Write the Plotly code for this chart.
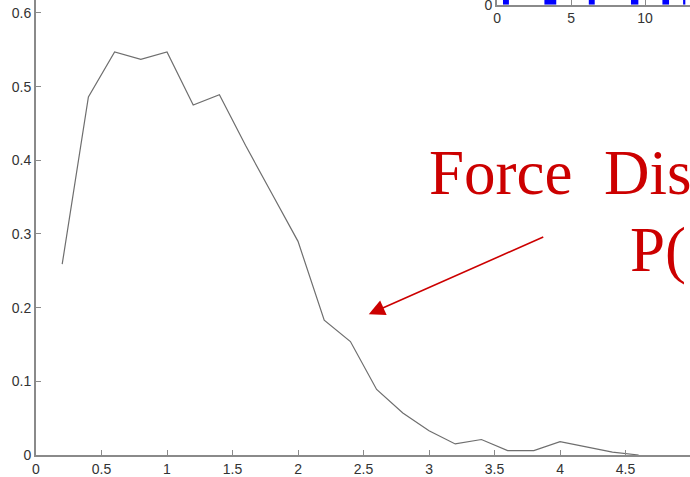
import plotly.graph_objects as go

# Main curve: force distribution P(f)
force = [0.2, 0.4, 0.6, 0.8, 1.0, 1.2, 1.4, 1.6, 1.8, 2.0, 2.2, 2.4, 2.6, 2.8,
         3.0, 3.2, 3.4, 3.6, 3.8, 4.0, 4.2, 4.4, 4.6]
prob = [0.259, 0.486, 0.547, 0.537, 0.547, 0.475, 0.489, 0.420, 0.355, 0.290,
        0.183, 0.154, 0.089, 0.057, 0.033, 0.015, 0.021, 0.006, 0.006, 0.018,
        0.011, 0.004, 0.0]

x_ticks = [0, 0.5, 1, 1.5, 2, 2.5, 3, 3.5, 4, 4.5, 5]
x_labels = ["0", "0.5", "1", "1.5", "2", "2.5", "3", "3.5", "4", "4.5", "5"]
y_ticks = [0, 0.1, 0.2, 0.3, 0.4, 0.5, 0.6]
y_labels = ["0", "0.1", "0.2", "0.3", "0.4", "0.5", "0.6"]

# Inset (cropped at top): blue bars
inset_pos = [0.6, 3.6, 6.4, 9.3, 11.4, 12.65]
inset_width = [0.4, 0.8, 0.4, 0.5, 0.45, 0.15]
inset_height = [3, 8, 5, 4, 2, 1]
inset_ticks = [0, 5, 10]
inset_labels = ["0", "5", "10"]

title_line1 = "Force\u00a0\u00a0Dis"
title_line2 = "P("

AX = "#8a8a8a"
TXT = "#333333"
RED = "#cc0000"

fig = go.Figure()
fig.add_trace(go.Scatter(x=force, y=prob, mode="lines",
                         line=dict(color="#6e6e6e", width=1.2),
                         showlegend=False, hoverinfo="skip"))
fig.add_trace(go.Bar(x=inset_pos, y=inset_height, width=inset_width,
                     marker=dict(color="#0000ff", line=dict(width=0)),
                     xaxis="x2", yaxis="y2", showlegend=False))

axis_common = dict(showgrid=False, zeroline=False, showline=True,
                   linecolor=AX, linewidth=2, ticks="inside", ticklen=5,
                   tickcolor=AX, tickwidth=1, automargin=False,
                   tickfont=dict(family="Liberation Sans, Arial, sans-serif",
                                 size=14, color=TXT))

fig.update_layout(
    width=690, height=477,
    margin=dict(l=36, r=0, t=0, b=22),
    paper_bgcolor="white", plot_bgcolor="rgba(0,0,0,0)",
    xaxis=dict(range=[0, 4.992], tickmode="array", tickvals=x_ticks,
               ticktext=x_labels, **axis_common),
    yaxis=dict(range=[0, 0.6176], tickmode="array", tickvals=y_ticks,
               ticktext=y_labels, **axis_common),
    xaxis2=dict(domain=[0.705, 1.0], anchor="y2", range=[0, 13.04],
                tickmode="array", tickvals=inset_ticks, ticktext=inset_labels,
                **axis_common),
    yaxis2=dict(domain=[0.9897, 1.0], anchor="x2", range=[0, 1],
                tickmode="array", tickvals=[0], ticktext=["0"],
                ticklabeloverflow="allow", **axis_common),
    annotations=[
        dict(text=title_line1, x=2.985, y=0.3826,
             xref="x", yref="y", xanchor="left", yanchor="middle",
             showarrow=False,
             font=dict(family="Liberation Serif, Times New Roman, serif",
                       size=63, color=RED)),
        dict(text=title_line2, x=4.52, y=0.278, xref="x", yref="y",
             xanchor="left", yanchor="middle", showarrow=False,
             font=dict(family="Liberation Serif, Times New Roman, serif",
                       size=63, color=RED)),
        dict(text="", x=2.54, y=0.191, xref="x", yref="y",
             ax=176, ay=-78, showarrow=True, arrowcolor=RED,
             arrowwidth=1.6, arrowhead=2, arrowsize=2),
    ],
)

fig.write_html("out.html")
